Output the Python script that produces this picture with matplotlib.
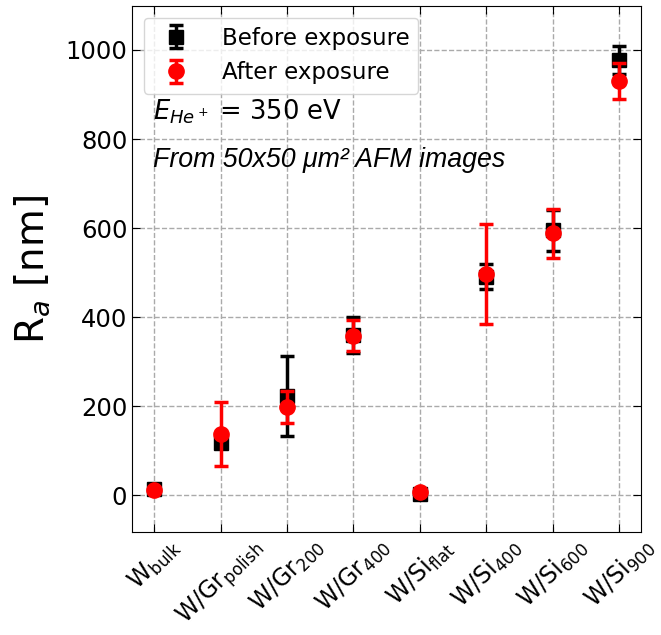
import matplotlib
matplotlib.use("Agg")
import matplotlib.pyplot as plt
import numpy as np

labels = [r"$\mathrm{W}_{\mathrm{bulk}}$", r"$\mathrm{W/Gr}_{\mathrm{polish}}$", r"$\mathrm{W/Gr}_{\mathrm{200}}$",
          r"$\mathrm{W/Gr}_{\mathrm{400}}$", r"$\mathrm{W/Si}_{\mathrm{flat}}$", r"$\mathrm{W/Si}_{\mathrm{400}}$",
          r"$\mathrm{W/Si}_{\mathrm{600}}$", r"$\mathrm{W/Si}_{\mathrm{900}}$"]
before = [13, 118, 222, 360, 3, 491, 595, 978]
before_err = [5, 10, 90, 40, 3, 28, 46, 32]
after = [12, 137, 198, 358, 8, 497, 588, 930]
after_err = [4, 72, 35, 35, 3, 113, 55, 41]

fig, ax = plt.subplots(figsize=(6.61, 6.35), dpi=100)
fig.subplots_adjust(left=0.2, right=0.97, bottom=0.162, top=0.99)
x = np.arange(len(labels))
ax.errorbar(x, before, yerr=before_err, fmt='s', color='black', ms=10, capsize=5,
            elinewidth=2.5, capthick=2.5, label='Before exposure', zorder=3)
ax.errorbar(x, after, yerr=after_err, fmt='o', color='red', ms=11, capsize=5,
            elinewidth=2.5, capthick=2.5, label='After exposure', zorder=4)
ax.set_xlim(-0.33, 7.33)
ax.set_ylim(-83, 1098)
ax.set_yticks([0, 200, 400, 600, 800, 1000])
ax.set_xticks(x)
ax.set_xticklabels(labels, rotation=45, ha='center', fontsize=17)
ax.tick_params(axis='both', direction='in', top=True, right=True, length=6)
ax.tick_params(axis='y', labelsize=17.5)
ax.tick_params(axis='x', pad=1)
ax.set_ylabel(r"R$_a$ [nm]", fontsize=28, labelpad=10)
ax.grid(True, linestyle='--', color='#aaaaaa', linewidth=1)
ax.legend(loc='upper left', fontsize=16.5, handletextpad=1.0, borderaxespad=0.5,
          labelspacing=0.5)
ax.text(0.04, 0.785, r"$E_{He^+}$ = 350 eV", transform=ax.transAxes, fontsize=18.5)
ax.text(0.04, 0.695, "From 50x50 μm² AFM images", transform=ax.transAxes,
        fontsize=19.3, style='italic', family='Liberation Sans')
fig.savefig("out.png", dpi=100)
